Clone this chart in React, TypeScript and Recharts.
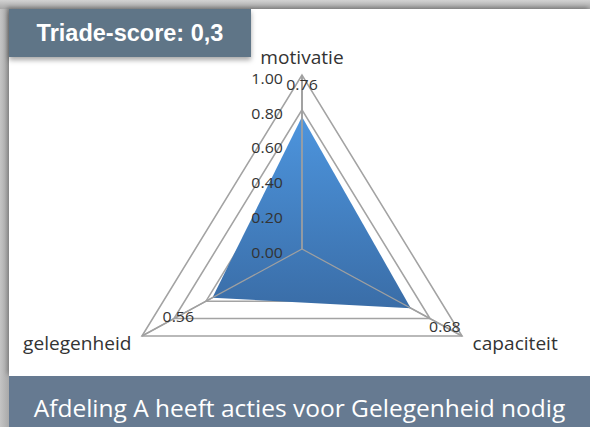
import {
  RadarChart,
  Radar,
  PolarGrid,
  PolarAngleAxis,
  PolarRadiusAxis,
  LabelList,
} from "recharts";

const categories = ["motivatie", "capaciteit", "gelegenheid"];
const scores = [0.76, 0.68, 0.56];
const radiusTicks = [0, 0.2, 0.4, 0.6, 0.8, 1];

const title = "Triade-score: 0,3";
const footer = "Afdeling A heeft acties voor Gelegenheid nodig";

const data = categories.map((name, i) => ({ name, value: scores[i] }));

const CX = 302;
const CY = 249;
const R = 174;
// the original radar is a bit wider than tall
const STRETCH = 1.062;
const labelFont = "'Open Sans', 'Noto Sans', sans-serif";

function AngleTick(props: any) {
  const { x, y, textAnchor, payload } = props;
  const top = textAnchor === "middle";
  const dx = top ? 0 : textAnchor === "end" ? -3 : 3;
  return (
    <text
      x={x + dx}
      y={top ? y - 3 : y + 3}
      textAnchor={textAnchor}
      dominantBaseline={top ? "auto" : "central"}
      fill="#333"
      fontSize={18}
      fontFamily={labelFont}
    >
      {payload.value}
    </text>
  );
}

function RadiusTick(props: any) {
  const { x, y, payload } = props;
  return (
    <text
      x={x - 18}
      y={y + 3}
      textAnchor="end"
      dominantBaseline="central"
      fill="#333"
      fontSize={15}
      fontFamily={labelFont}
    >
      {Number(payload.value).toFixed(2)}
    </text>
  );
}

function ValueLabel(props: any) {
  const px = props.x ?? props.viewBox?.x;
  const py = props.y ?? props.viewBox?.y;
  if (px == null || py == null) return null;
  const dx = px - CX;
  const dy = py - CY;
  const len = Math.sqrt(dx * dx + dy * dy) || 1;
  const off = dy < 0 ? 33 : 37;
  return (
    <text
      x={px + (dx / len) * off}
      y={py + (dy / len) * off}
      textAnchor="middle"
      dominantBaseline="central"
      fill="#333"
      fontSize={15}
      fontFamily={labelFont}
    >
      {Number(props.value).toFixed(2)}
    </text>
  );
}

export default function App() {
  return (
    <div
      style={{
        position: "absolute",
        left: 0,
        top: 0,
        width: 590,
        height: 427,
        overflow: "hidden",
        background: "linear-gradient(90deg, #c4c4c4 0px, #a9a9a9 9px)",
      }}
    >
      <div
        style={{
          position: "absolute",
          left: 0,
          top: 0,
          width: 590,
          height: 9,
          background: "linear-gradient(180deg, #d2d2d2, #a6a6a6)",
        }}
      />
      <div
        style={{
          position: "absolute",
          left: 9,
          top: 9,
          width: 581,
          height: 367,
          background: "#ffffff",
          boxShadow: "-2px -2px 4px rgba(0,0,0,0.25)",
        }}
      />
      <div
        style={{
          position: "absolute",
          left: 0,
          top: 0,
          transform: `scaleX(${STRETCH})`,
          transformOrigin: `${CX}px 0px`,
        }}
      >
        <RadarChart
          width={590}
          height={427}
          data={data}
          cx={CX}
          cy={CY}
          outerRadius={R}
          margin={{ top: 0, right: 0, bottom: 0, left: 0 }}
        >
          <defs>
            <linearGradient id="blueFill" x1="0" y1="0" x2="0" y2="1">
              <stop offset="0%" stopColor="#4d95de" />
              <stop offset="100%" stopColor="#3a6da7" />
            </linearGradient>
          </defs>
          <PolarGrid gridType="polygon" stroke="#a3a3a3" strokeWidth={1.5} />
          <PolarAngleAxis
            dataKey="name"
            tick={AngleTick}
            tickLine={false}
            axisLine={false}
          />
          <Radar
            dataKey="value"
            fill="url(#blueFill)"
            fillOpacity={1}
            stroke="none"
            isAnimationActive={false}
          >
            <LabelList dataKey="value" content={ValueLabel} />
          </Radar>
          <PolarGrid
            gridType="polygon"
            polarRadius={[]}
            radialLines
            stroke="#a0a0a0"
            strokeWidth={1.2}
            zIndex={600}
          />
          <PolarRadiusAxis
            angle={90}
            domain={[0, 1]}
            ticks={radiusTicks}
            tick={RadiusTick}
            tickLine={false}
            axisLine={{ stroke: "#a0a0a0", strokeWidth: 1.2 }}
          />
        </RadarChart>
      </div>
      <div
        style={{
          position: "absolute",
          left: 9,
          top: 9,
          width: 242,
          height: 48,
          background: "#5f7587",
          boxShadow: "0 3px 5px rgba(0,0,0,0.35)",
          color: "#ffffff",
          fontFamily: "'Liberation Sans', Arial, sans-serif",
          fontWeight: "bold",
          fontSize: 23.5,
          lineHeight: "48px",
          textAlign: "center",
        }}
      >
        {title}
      </div>
      <div
        style={{
          position: "absolute",
          left: 9,
          top: 376,
          width: 581,
          height: 44,
          paddingTop: 7,
          background: "#667a91",
          color: "#ffffff",
          fontFamily: "'Open Sans', sans-serif",
          fontSize: 24.5,
          lineHeight: "50px",
          textAlign: "center",
        }}
      >
        {footer}
      </div>
    </div>
  );
}
